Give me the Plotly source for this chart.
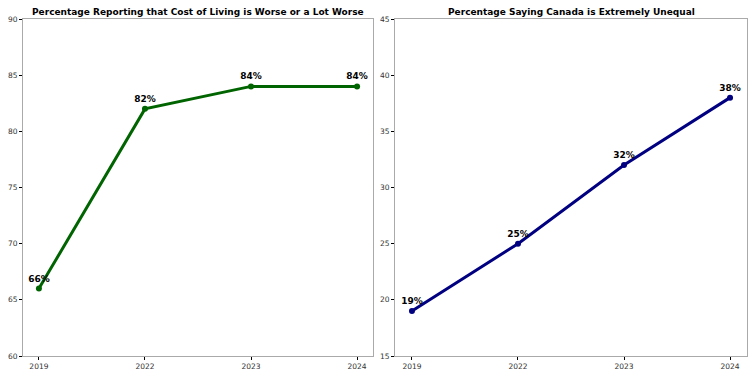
import plotly.graph_objects as go

years = ["2019", "2022", "2023", "2024"]
cost_worse = [66, 82, 84, 84]
unequal = [19, 25, 32, 38]
title_left = "Percentage Reporting that Cost of Living is Worse or a Lot Worse"
title_right = "Percentage Saying Canada is Extremely Unequal"

W, H = 754, 377
fig = go.Figure()

fig.add_trace(go.Scatter(
    x=years, y=cost_worse, mode="lines+markers+text",
    text=[f"{v}%" for v in cost_worse], textposition="top center",
    textfont=dict(family="DejaVu Sans", size=9, color="black", weight="bold"),
    line=dict(color="#006400", width=3), marker=dict(color="#006400", size=6),
    xaxis="x", yaxis="y", showlegend=False, cliponaxis=False))
fig.add_trace(go.Scatter(
    x=years, y=unequal, mode="lines+markers+text",
    text=[f"{v}%" for v in unequal], textposition="top center",
    textfont=dict(family="DejaVu Sans", size=9, color="black", weight="bold"),
    line=dict(color="#000080", width=3), marker=dict(color="#000080", size=6),
    xaxis="x2", yaxis="y2", showlegend=False, cliponaxis=False))

ydom = [(H - 356) / H, (H - 19) / H]
axis_common = dict(showline=True, linecolor="#aaaaaa", linewidth=1, mirror=True,
                   ticks="outside", ticklen=3, tickcolor="black", showgrid=False,
                   zeroline=False, automargin=False,
                   tickfont=dict(family="DejaVu Sans", size=7.5, color="#333333"))
fig.update_layout(
    width=W, height=H, margin=dict(l=0, r=0, t=0, b=0, autoexpand=False),
    plot_bgcolor="white", paper_bgcolor="white",
    xaxis=dict(domain=[23 / W, 373 / W], type="category", range=[-0.15, 3.15], anchor="y", **axis_common),
    yaxis=dict(domain=ydom, range=[60, 90], dtick=5, anchor="x", **axis_common),
    xaxis2=dict(domain=[395 / W, 747 / W], type="category", range=[-0.16, 3.16], anchor="y2", **axis_common),
    yaxis2=dict(domain=ydom, range=[15, 45], dtick=5, anchor="x2", **axis_common),
    annotations=[
        dict(text=f"<b>{title_left}</b>", x=(23 + 373) / 2 / W, y=(H - 12) / H, xref="paper", yref="paper",
             xanchor="center", yanchor="middle", showarrow=False,
             font=dict(family="DejaVu Sans", size=9, color="black")),
        dict(text=f"<b>{title_right}</b>", x=(395 + 747) / 2 / W, y=(H - 12) / H, xref="paper", yref="paper",
             xanchor="center", yanchor="middle", showarrow=False,
             font=dict(family="DejaVu Sans", size=9, color="black")),
    ],
)
fig.write_html("out.html", config={"displayModeBar": False},
               post_script="document.body.style.margin='0';document.body.style.overflow='hidden';")
